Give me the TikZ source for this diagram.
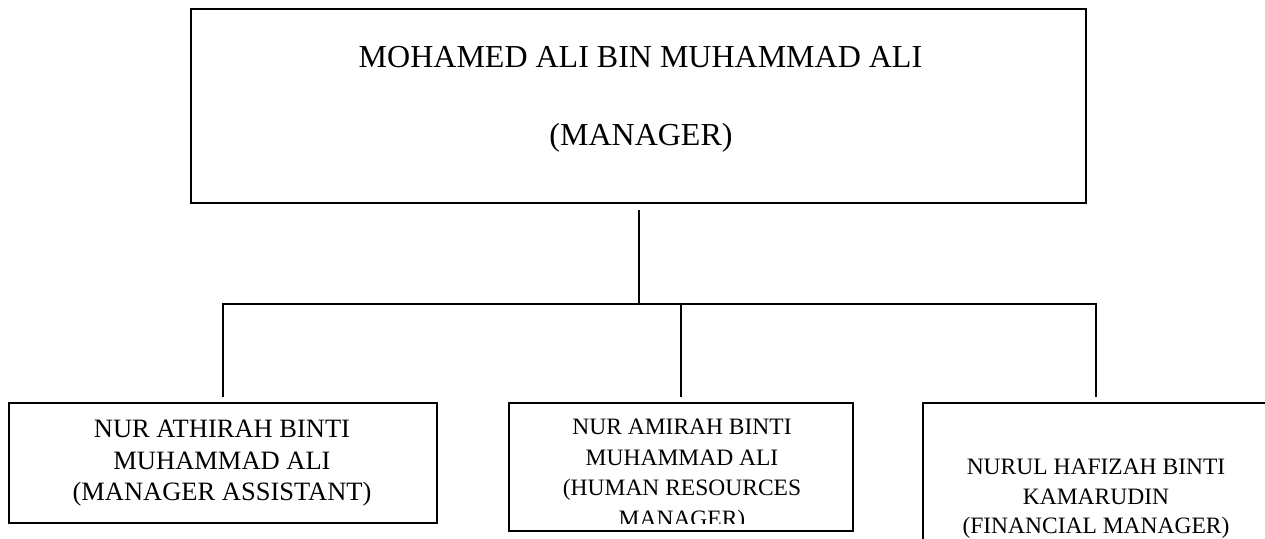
\documentclass[tikz,border=0pt]{standalone}
\usepackage{fontspec}
\setmainfont{Liberation Serif}
\begin{document}
\begin{tikzpicture}[x=1pt,y=-1pt,
  box/.style={draw, line width=2.5pt, inner sep=0pt},
  conn/.style={line width=2.5pt},
  ttop/.style={anchor=base, inner sep=0pt, font=\fontsize{32}{36}\selectfont},
  tbig/.style={anchor=base, inner sep=0pt, font=\fontsize{26.5}{30}\selectfont},
  tsmall/.style={anchor=base, inner sep=0pt, font=\fontsize{23.5}{27}\selectfont}]
\useasboundingbox (0,0) rectangle (1265,538);
\clip (0,0) rectangle (1265,538);
% boxes
\node[box, minimum width=895pt, minimum height=194pt] (top) at (638.5,106) {};
\node[box, minimum width=428pt, minimum height=120pt] (b1) at (223,463) {};
\node[box, minimum width=344pt, minimum height=128pt] (b2) at (681,467) {};
\node[box, minimum width=346pt, minimum height=137pt] (b3) at (1096,471.5) {};
% connectors
\coordinate (j) at (639,304);
\draw[conn] ([yshift=-6pt]top.south -| j) -- (j);
\draw[conn] ([yshift=5pt]b1.north) -- (b1.north |- j) -- (b3.north |- j) -- ([yshift=5pt]b3.north);
\draw[conn] (b2.north |- j) -- ([yshift=5pt]b2.north);
% texts
\node[ttop] (t0a) at (640.5,67) {MOHAMED ALI BIN MUHAMMAD ALI};
\node[ttop] (t0b) at (641,145) {(MANAGER)};
\node[tbig] (t1a) at (222,437) {NUR ATHIRAH BINTI};
\node[tbig] (t1b) at (222,469) {MUHAMMAD ALI};
\node[tbig] (t1c) at (222,500) {(MANAGER ASSISTANT)};
\node[tsmall] (t2a) at (682,434) {NUR AMIRAH BINTI};
\node[tsmall] (t2b) at (682,465) {MUHAMMAD ALI};
\node[tsmall] (t2c) at (682,495) {(HUMAN RESOURCES};
\begin{scope}
\clip (509,403) rectangle (853,523);
\node[tsmall] (t2d) at (682,526) {MANAGER)};
\end{scope}
\node[tsmall] (t3a) at (1096,474) {NURUL HAFIZAH BINTI};
\node[tsmall] (t3b) at (1096,504) {KAMARUDIN};
\node[tsmall] (t3c) at (1096,533) {(FINANCIAL MANAGER)};
\end{tikzpicture}
\end{document}
